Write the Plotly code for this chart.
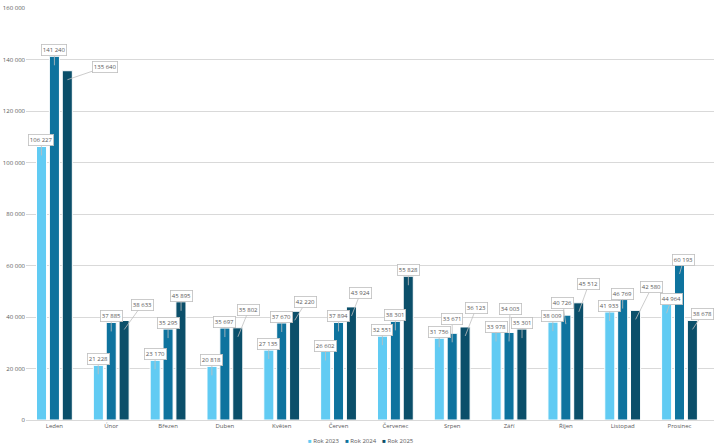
import plotly.graph_objects as go

months = ["Leden", "Únor", "Březen", "Duben", "Květen", "Červen",
          "Červenec", "Srpen", "Září", "Říjen", "Listopad", "Prosinec"]
series_names = ["Rok 2023", "Rok 2024", "Rok 2025"]
rok_2023 = [106227, 21228, 23170, 20818, 27135, 26602, 32551, 31756, 33978, 38009, 41933, 44964]
rok_2024 = [141240, 37885, 35295, 35697, 37670, 37894, 38301, 33671, 34003, 40726, 46769, 60193]
rok_2025 = [135640, 38633, 45895, 35802, 42220, 43924, 55828, 36123, 35301, 45512, 42580, 38678]
y_ticks = [0, 20000, 40000, 60000, 80000, 100000, 120000, 140000, 160000]

colors = ["#61CBF3", "#0E739E", "#0B4F6A"]
series = [rok_2023, rok_2024, rok_2025]

# callout box offsets (pixels) for labels placed away from the default position
default_off = (0, -15)
custom_off = {
    (0, 2): (38, -13),
    (1, 2): (18, -25),
    (3, 2): (11, -27),
    (4, 2): (11, -18),
    (5, 2): (9, -23),
    (7, 1): (0, -23),
    (7, 2): (11, -28),
    (8, 1): (1, -32),
    (9, 1): (-3, -21),
    (9, 2): (10, -28),
    (10, 2): (16, -32),
    (11, 0): (5, -14),
    (11, 1): (4, -14),
    (11, 2): (10, -15),
}
series_shift = [-13, 0, 13]
FONT = "Open Sans, Lato, sans-serif"

fig = go.Figure()
for name, vals, col in zip(series_names, series, colors):
    fig.add_trace(go.Bar(
        x=months, y=vals, name=name,
        marker=dict(color=col, line=dict(color="white", width=1)),
        hoverinfo="x+y+name",
    ))

def fmt(v):
    return f"{v:,}".replace(",", " ")

annotations = []
for s, vals in enumerate(series):
    for i, v in enumerate(vals):
        ax, ay = custom_off.get((i, s), default_off)
        annotations.append(dict(
            x=months[i], y=v, xref="x", yref="y",
            xshift=series_shift[s], yshift=-9,
            text=fmt(v), showarrow=True, arrowhead=0, arrowwidth=0.8,
            arrowcolor="#BFBFBF", ax=ax, ay=ay,
            font=dict(family=FONT, size=6, color="#595959"),
            bgcolor="white", bordercolor="#BFBFBF", borderwidth=0.8, borderpad=1,
        ))

# compact legend drawn as text (matches the small square markers of the reference)
legend_text = "    ".join(
    f'<span style="color:{c}">■</span> {n}' for n, c in zip(series_names, colors)
)
annotations.append(dict(
    x=0.487, y=-0.051, xref="paper", yref="paper", xanchor="center", yanchor="middle",
    text=legend_text, showarrow=False,
    font=dict(family=FONT, size=6, color="#595959"),
))

fig.update_layout(
    width=718, height=447,
    margin=dict(l=26, r=4, t=8, b=27, autoexpand=False),
    paper_bgcolor="white", plot_bgcolor="white",
    barmode="group", bargap=0.32, bargroupgap=0.22,
    separators=", ",
    font=dict(family=FONT, size=6, color="#595959"),
    showlegend=False,
    annotations=annotations,
)
fig.update_xaxes(showgrid=False, showline=True, linecolor="#D9D9D9", linewidth=1,
                 ticks="", tickfont=dict(size=6, color="#595959"), automargin=False)
fig.update_yaxes(range=[0, 160000], tickvals=y_ticks,
                 ticktext=[fmt(t) for t in y_ticks],
                 showgrid=True, gridcolor="#D9D9D9", gridwidth=1,
                 zeroline=False, showline=False, ticks="",
                 tickfont=dict(size=6, color="#595959"), automargin=False)

fig.write_html(
    "out.html",
    config={"displayModeBar": False},
    post_script="document.body.style.margin='0';document.body.style.padding='0';"
                "document.body.style.overflow='hidden';",
)
